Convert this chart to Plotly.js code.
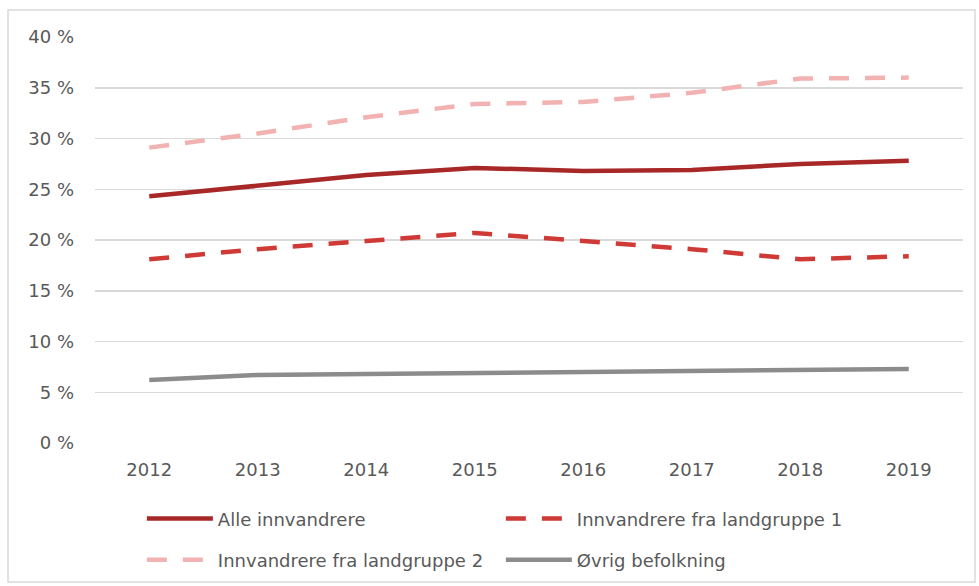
<!DOCTYPE html>
<html>
<head>
<meta charset="utf-8">
<script src="https://cdn.plot.ly/plotly-3.0.1.min.js"></script>
<style>html,body{margin:0;padding:0;background:#fff;}#chart{width:979px;height:586px;}</style>
</head>
<body>
<div id="chart"></div>
<script>
const years = ["2012","2013","2014","2015","2016","2017","2018","2019"];
const alleInnvandrere = [24.3, 25.3, 26.4, 27.1, 26.8, 26.9, 27.5, 27.8];
const landgruppe1 = [18.1, 19.1, 19.9, 20.7, 19.9, 19.1, 18.1, 18.4];
const landgruppe2 = [29.1, 30.5, 32.1, 33.4, 33.6, 34.5, 35.9, 36.0];
const ovrigBefolkning = [6.2, 6.7, 6.8, 6.9, 7.0, 7.0, 7.2, 7.3];
const seriesNames = ["Alle innvandrere", "Innvandrere fra landgruppe 1", "Innvandrere fra landgruppe 2", "Øvrig befolkning"];
const yTicks = [0,5,10,15,20,25,30,35,40];
const yTickText = yTicks.map(v => v + " %");

const font = {family: "DejaVu Sans, Verdana, sans-serif", size: 18, color: "#595959"};
const traces = [
  {x: years, y: alleInnvandrere, name: seriesNames[0], mode: "lines", line: {color: "#a82828", width: 4.5}, legend: "legend"},
  {x: years, y: landgruppe1, name: seriesNames[1], mode: "lines", line: {color: "#d03a36", width: 4.5, dash: "20px,16px"}, legend: "legend"},
  {x: years, y: landgruppe2, name: seriesNames[2], mode: "lines", line: {color: "#f2b2b2", width: 4.5, dash: "20px,16px"}, legend: "legend2"},
  {x: years, y: ovrigBefolkning, name: seriesNames[3], mode: "lines", line: {color: "#8c8c8c", width: 4.5}, legend: "legend2"}
];
const legendCommon = {
  orientation: "h", xanchor: "left", yanchor: "middle", x: 0.054,
  entrywidth: 278, entrywidthmode: "pixels", itemwidth: 66,
  font: font, bgcolor: "rgba(0,0,0,0)", itemclick: false, itemdoubleclick: false
};
const layout = {
  width: 979, height: 586,
  margin: {l: 95, r: 16, t: 37, b: 143, autoexpand: false},
  paper_bgcolor: "#ffffff", plot_bgcolor: "#ffffff",
  font: font,
  showlegend: true,
  xaxis: {type: "category", range: [-0.5, 7.5], showgrid: false, zeroline: false, showline: false, ticks: "", tickfont: font, ticklabelstandoff: 14},
  yaxis: {range: [0, 40], tickvals: yTicks, ticktext: yTickText, showgrid: true, gridcolor: "#d9d9d9", gridwidth: 1.5, zeroline: false, showline: false, ticks: "", tickfont: font, ticklabelstandoff: 20},
  legend: Object.assign({}, legendCommon, {y: -0.187}),
  legend2: Object.assign({}, legendCommon, {y: -0.288}),
  shapes: [
    {type: "rect", xref: "paper", yref: "paper", x0: -87/868, x1: 1 + 12/868, y0: -139/406, y1: 1 + 27/406, line: {color: "#d9d9d9", width: 1.5}, fillcolor: "rgba(0,0,0,0)", layer: "below"}
  ]
};
Plotly.newPlot("chart", traces, layout, {displayModeBar: false, staticPlot: true});
</script>
</body>
</html>
